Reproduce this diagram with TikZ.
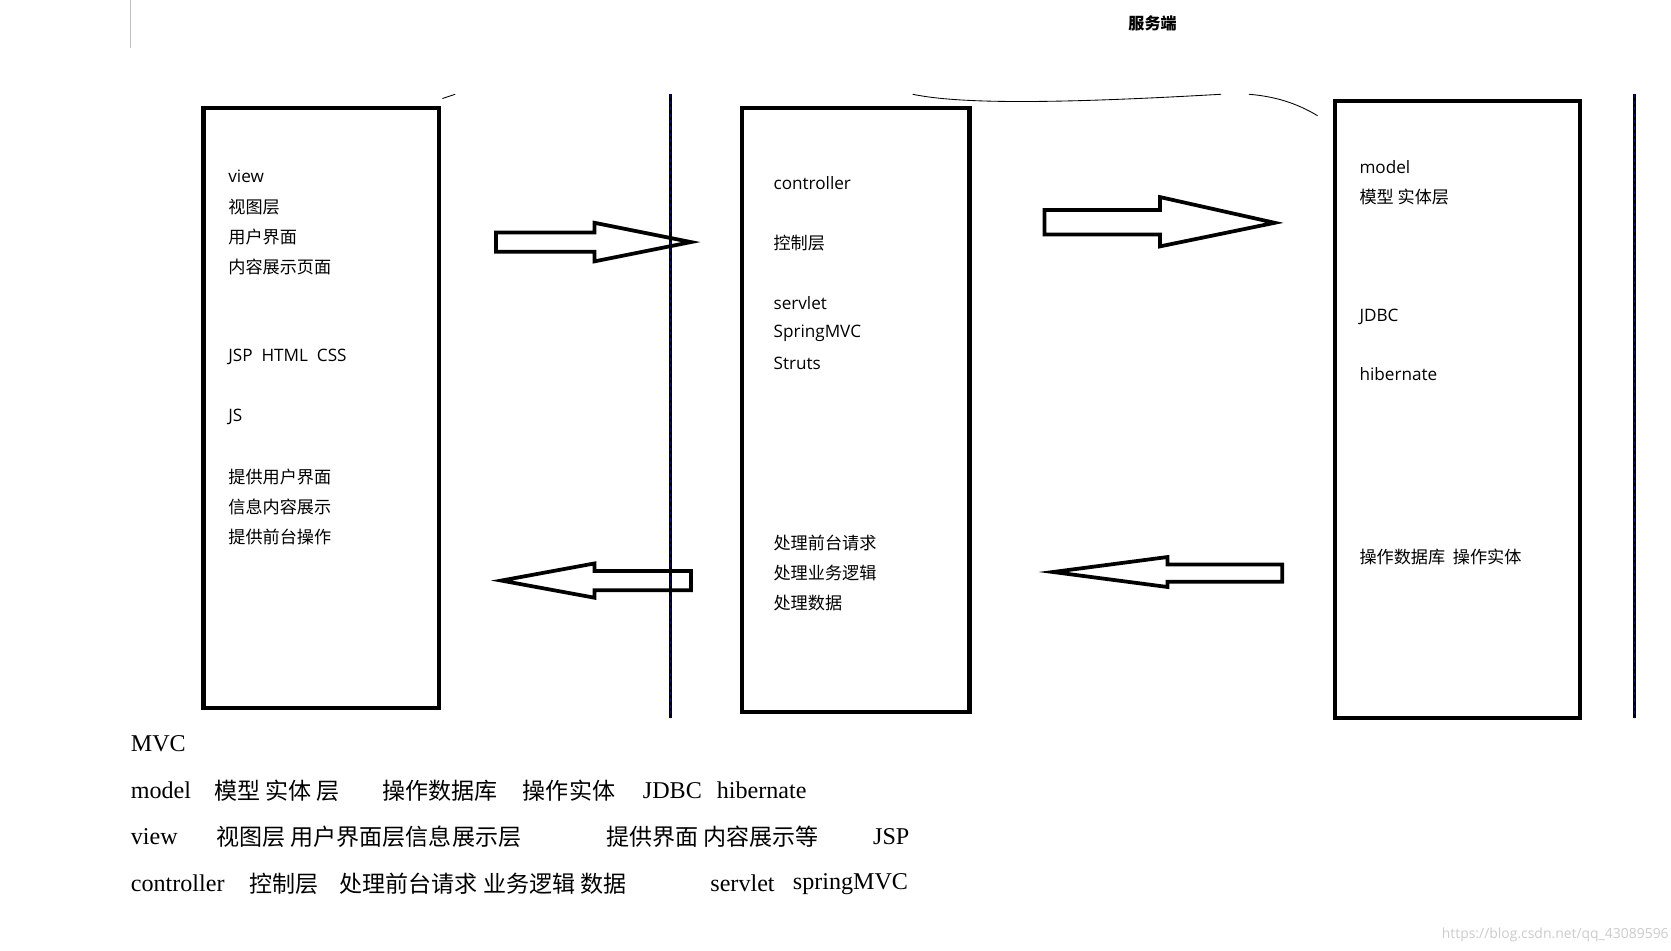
\documentclass[tikz,border=0pt]{standalone}
\usepackage{fontspec}
\setmainfont{Liberation Serif}
\newfontfamily\cjk{Noto Sans CJK SC}
\newfontfamily\lat{Open Sans}
\begin{document}
\begin{tikzpicture}[x=1pt,y=-1pt,
  box/.style={line width=4pt},
  blk/.style={line width=3.5pt,line join=miter},
  t/.style={anchor=west,inner sep=0pt,font=\fontsize{16}{18}\selectfont},
  b/.style={anchor=west,inner sep=0pt,font=\fontsize{22.5}{26}\selectfont},
  bc/.style={anchor=west,inner sep=0pt,font=\cjk\fontsize{21.5}{26}\selectfont},
  vl/.style={line width=2.5pt}]
\useasboundingbox (0,0) rectangle (1560,887);
\fill[white] (0,0) rectangle (1560,887);
\draw[gray!50,line width=0.8pt] (122,0) -- (122,45);
\node[font=\cjk\bfseries\fontsize{15}{18}\selectfont] (srv) at (1076,22) {服务端};
% boxes
\draw[box] (190,101) rectangle (410,661);
\draw[box] (693,101) rectangle (905,665);
\draw[box] (1246,94) rectangle (1475,670);
% vertical lines
\foreach \x in {626,1526}{
 \draw[vl] (\x,88) -- (\x,670);
 \draw[blue!70!black,dashed,line width=0.8pt] (\x,88) -- (\x,670);}
% scribbles
\draw[line width=0.8pt] (413,92) -- (425,88);
\draw[line width=0.8pt] (852,88) .. controls (900,98) and (1000,96) .. (1140,88);
\draw[line width=0.8pt] (1166,88) .. controls (1190,90) and (1210,96) .. (1230,108);
% block arrows
\draw[blk] (463,217) -- (555,217) -- (555,208) -- (645,226) -- (555,244) -- (555,235) -- (463,235) -- cycle;
\draw[blk] (975,196) -- (1083,196) -- (1083,184) -- (1190,208) -- (1083,230) -- (1083,219) -- (975,219) -- cycle;
\draw[blk] (645,533) -- (555,533) -- (555,526) -- (468,542) -- (555,558) -- (555,551) -- (645,551) -- cycle;
\draw[blk] (1197,527) -- (1090,527) -- (1090,520) -- (983,534) -- (1090,548) -- (1090,543) -- (1197,543) -- cycle;
% left box texts
\node[t,font=\lat\fontsize{16}{18}\selectfont] (v1) at (213,165) {view};
\node[t,font=\cjk\fontsize{16}{18}\selectfont] (v2) at (213,193) {视图层};
\node[t,font=\cjk\fontsize{16}{18}\selectfont] (v3) at (213,221) {用户界面};
\node[t,font=\cjk\fontsize{16}{18}\selectfont] (v4) at (213,249) {内容展示页面};
\node[t,font=\lat\fontsize{16}{18}\selectfont] (v5) at (213,333) {JSP\ \ HTML\ \ CSS};
\node[t,font=\lat\fontsize{16}{18}\selectfont] (v6) at (213,389) {JS};
\node[t,font=\cjk\fontsize{16}{18}\selectfont] (v7) at (213,445) {提供用户界面};
\node[t,font=\cjk\fontsize{16}{18}\selectfont] (v8) at (213,473) {信息内容展示};
\node[t,font=\cjk\fontsize{16}{18}\selectfont] (v9) at (213,501) {提供前台操作};
% middle
\node[t,font=\lat\fontsize{16}{18}\selectfont] (c1) at (722,171) {controller};
\node[t,font=\cjk\fontsize{16}{18}\selectfont] (c2) at (722,227) {控制层};
\node[t,font=\lat\fontsize{16}{18}\selectfont] (c3) at (722,283) {servlet};
\node[t,font=\lat\fontsize{16}{18}\selectfont] (c4) at (722,311) {SpringMVC};
\node[t,font=\lat\fontsize{16}{18}\selectfont] (c5) at (722,339) {Struts};
\node[t,font=\cjk\fontsize{16}{18}\selectfont] (c6) at (722,507) {处理前台请求};
\node[t,font=\cjk\fontsize{16}{18}\selectfont] (c7) at (722,535) {处理业务逻辑};
\node[t,font=\cjk\fontsize{16}{18}\selectfont] (c8) at (722,563) {处理数据};
% right
\node[t,font=\lat\fontsize{16}{18}\selectfont] (m1) at (1269,156) {model};
\node[t,font=\cjk\fontsize{16}{18}\selectfont] (m2) at (1269,184) {模型 实体层};
\node[t,font=\lat\fontsize{16}{18}\selectfont] (m3) at (1269,296) {JDBC};
\node[t,font=\lat\fontsize{16}{18}\selectfont] (m4) at (1269,349) {hibernate};
\node[t,font=\cjk\fontsize{16}{18}\selectfont] (m5) at (1269,520) {操作数据库\ \ 操作实体};
% bottom
\node[b] (b1) at (122,694) {MVC};
\node[b] (b2a) at (122,738) {model};
\node[bc] (b2b) at (200,738) {模型 实体 层};
\node[bc] (b2c) at (357,738) {操作数据库};
\node[bc] (b2d) at (488,738) {操作实体};
\node[b] (b2e) at (600,738) {JDBC};
\node[b] (b2f) at (669,738) {hibernate};
\node[b] (b3a) at (122,781) {view};
\node[bc] (b3b) at (202,781) {视图层 用户界面层信息展示层};
\node[bc] (b3c) at (566,781) {提供界面 内容展示等};
\node[b] (b3d) at (815,781) {JSP};
\node[b] (b4a) at (122,825) {controller};
\node[bc] (b4b) at (233,825) {控制层};
\node[bc] (b4c) at (317,825) {处理前台请求 业务逻辑 数据};
\node[b] (b4d) at (663,825) {servlet};
\node[b] (b4e) at (740,825) {springMVC};
\node[anchor=east,inner sep=0pt,text=gray!40,font=\lat\fontsize{13}{15}\selectfont] (wm) at (1558,873) {https://blog.csdn.net/qq\_43089596};
\end{tikzpicture}
\end{document}
